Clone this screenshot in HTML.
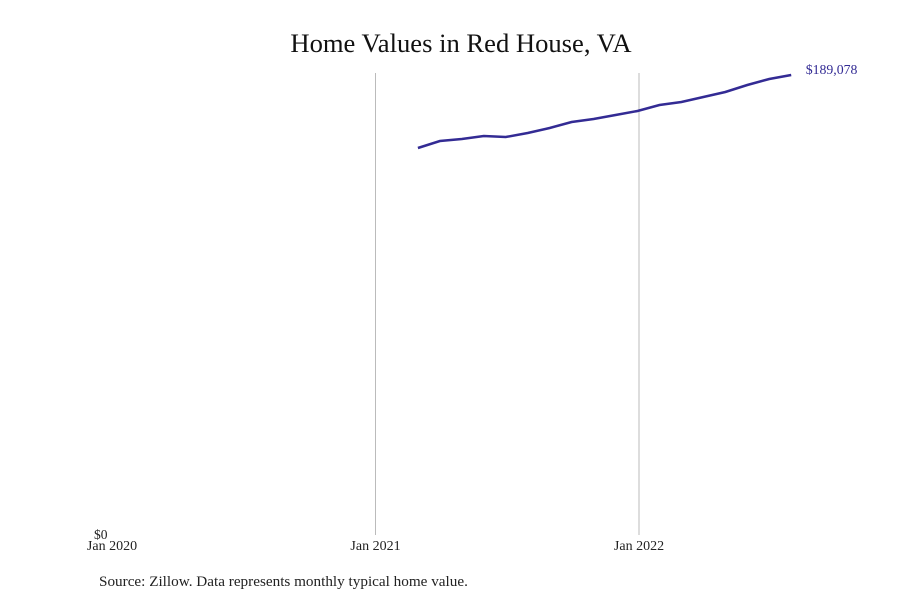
<!DOCTYPE html>
<html><head><meta charset="utf-8"><style>
body{margin:0;background:#fff;font-family:"Liberation Serif",serif;}
svg text{font-family:"Liberation Serif",serif;}
</style></head><body>
<svg width="900" height="600">
<text x="461" y="52" text-anchor="middle" font-size="26.6" fill="#111">Home Values in Red House, VA</text>
<g id="grid"></g>
<g id="series"></g>
<text x="99" y="586" font-size="15.2" fill="#222">Source: Zillow. Data represents monthly typical home value.</text>
</svg>
<script>
const months = ["2021-03","2021-04","2021-05","2021-06","2021-07","2021-08","2021-09","2021-10","2021-11","2021-12","2022-01","2022-02","2022-03","2022-04","2022-05","2022-06","2022-07","2022-08"];
const values = [159073,161950,162772,164005,163594,165238,167293,169760,170993,172637,174281,176747,177980,180035,182090,184968,187434,189078];
const xTicks = ["2020-01","2021-01","2022-01"];
const xTickLabels = ["Jan 2020","Jan 2021","Jan 2022"];
const yTickLabels = ["$0"];

const NS="http://www.w3.org/2000/svg";
function mIdx(s){const [y,m]=s.split("-").map(Number);return (y-2020)*12+(m-1);}
function xs(s){return 112+mIdx(s)*(263.5/12);}
const yMax=189078;
function ys(v){return 535-v/yMax*460;}
const grid=document.getElementById("grid"), ser=document.getElementById("series");
xTicks.forEach((t,i)=>{
  const x=xs(t);
  if(i>0){
    const l=document.createElementNS(NS,"line");
    l.setAttribute("x1",x);l.setAttribute("x2",x);l.setAttribute("y1",73);l.setAttribute("y2",535);
    l.setAttribute("stroke","#bbb");l.setAttribute("stroke-width","1");
    
    
    grid.appendChild(l);
  }
  const tx=document.createElementNS(NS,"text");
  tx.setAttribute("x",x);tx.setAttribute("y",550);tx.setAttribute("text-anchor","middle");
  tx.setAttribute("font-size","14");tx.setAttribute("fill","#222");
  tx.textContent=xTickLabels[i];
  
  
  grid.appendChild(tx);
});
const yl=document.createElementNS(NS,"text");
yl.setAttribute("x",94);yl.setAttribute("y",539);yl.setAttribute("font-size","13.5");yl.setAttribute("fill","#222");
yl.textContent=yTickLabels[0];


grid.appendChild(yl);
const p=document.createElementNS(NS,"polyline");
p.setAttribute("points",months.map((m,i)=>(xs(m)-1.5)+","+ys(values[i])).join(" "));
p.setAttribute("fill","none");p.setAttribute("stroke","#332b94");p.setAttribute("stroke-width","2.5");


ser.appendChild(p);
const last=values.length-1;
const lab=document.createElementNS(NS,"text");
lab.setAttribute("x",xs(months[last])+13);lab.setAttribute("y",ys(values[last])-1);
lab.setAttribute("font-size","13.8");lab.setAttribute("fill","#332b94");
lab.textContent="$"+values[last].toLocaleString("en-US");


ser.appendChild(lab);
</script>
</body></html>
